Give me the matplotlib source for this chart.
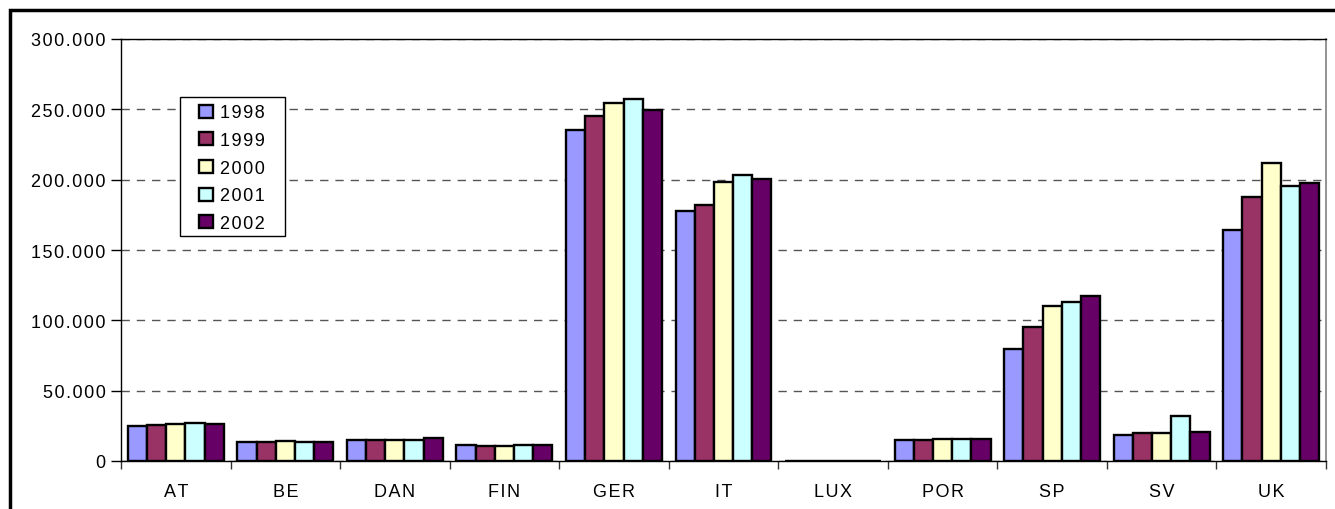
import matplotlib
matplotlib.use("Agg")
import matplotlib.pyplot as plt
import matplotlib.patches as mpatches
from matplotlib.ticker import FuncFormatter, FixedLocator
import numpy as np

categories = ["AT", "BE", "DAN", "FIN", "GER", "IT", "LUX", "POR", "SP", "SV", "UK"]
years = ["1998", "1999", "2000", "2001", "2002"]
v1998 = [24800, 13200, 15100, 11600, 235500, 178000, 300, 14900, 79400, 18700, 164500]
v1999 = [25500, 13200, 15100, 10900, 245600, 182300, 300, 14900, 95500, 19600, 187500]
v2000 = [26400, 14000, 15100, 11000, 254800, 198100, 300, 15400, 110200, 20100, 211800]
v2001 = [27100, 13500, 15100, 11300, 257000, 203500, 300, 15400, 113300, 31900, 195700]
v2002 = [26400, 13200, 16100, 11300, 249600, 200500, 300, 15600, 117200, 20800, 197600]
series = [v1998, v1999, v2000, v2001, v2002]
colors = ["#9999FF", "#993366", "#FFFFCC", "#CCFFFF", "#660066"]
yticks = [0, 50000, 100000, 150000, 200000, 250000, 300000]

plt.rcParams['font.family'] = ['Liberation Sans', 'DejaVu Sans']

HS = "\u200a"


def spaced(s):
    return HS.join(s)


fig = plt.figure(figsize=(13.35, 5.10), dpi=100)
ax = fig.add_axes([121/1335, 48/510, (1326-121)/1335, (462-40)/510])

x = np.arange(len(categories))
bw = 0.175
for i, (vals, c, lab) in enumerate(zip(series, colors, years)):
    ax.bar(x + (i - 2) * bw, vals, width=bw, color=c, edgecolor='black',
           linewidth=1.7, label=lab, zorder=3)

ax.set_xlim(-0.5, len(categories) - 0.5)
ax.set_ylim(0, 300000)
ax.yaxis.set_major_locator(FixedLocator(yticks))
ax.yaxis.set_major_formatter(FuncFormatter(lambda v, p: spaced(f"{v:,.0f}".replace(",", "."))))
ax.grid(axis='y', color='#555555', linestyle=(0, (6, 5)), linewidth=1.0, zorder=0)

ax.set_xticks(np.arange(-0.5, len(categories) - 0.4, 1.0))
ax.set_xticklabels([])
ax.set_xticks(x, minor=True)
ax.set_xticklabels([spaced(c) for c in categories], minor=True)
ax.tick_params(axis='x', which='major', length=6, width=1, direction='out', color='#333333')
ax.tick_params(axis='x', which='minor', length=0, pad=16, labelsize=13)
ax.tick_params(axis='y', which='major', length=7, width=1, direction='out', pad=4, labelsize=13)

for s in ['left', 'bottom', 'top']:
    ax.spines[s].set_color('black')
    ax.spines[s].set_linewidth(1.0)
ax.spines['right'].set_color('#808080')
ax.spines['right'].set_linewidth(1.2)

# legend box
box = mpatches.Rectangle((0.04896, 0.5332), 0.1361 - 0.04896, 0.8626 - 0.5332,
                         transform=ax.transAxes, facecolor='white', edgecolor='black',
                         linewidth=1.0, zorder=4)
ax.add_patch(box)

handles = [mpatches.Patch(facecolor=c, edgecolor='black', linewidth=1.7) for c in colors]
leg = ax.legend(handles, [spaced(y) for y in years], loc='upper left',
                bbox_to_anchor=(0.0647, 0.8448),
                frameon=False, fontsize=13,
                handlelength=0.75, handleheight=0.75, handletextpad=0.44,
                labelspacing=0.59, borderpad=0.0, borderaxespad=0)
leg.set_zorder(5)

frame = mpatches.Rectangle((10/1335, -0.2), 2.0, (510 - 11) / 510 + 0.2,
                           transform=fig.transFigure, fill=False,
                           edgecolor='black', linewidth=2.5, clip_on=False)
fig.patches.append(frame)

fig.savefig("out.png", dpi=100)
